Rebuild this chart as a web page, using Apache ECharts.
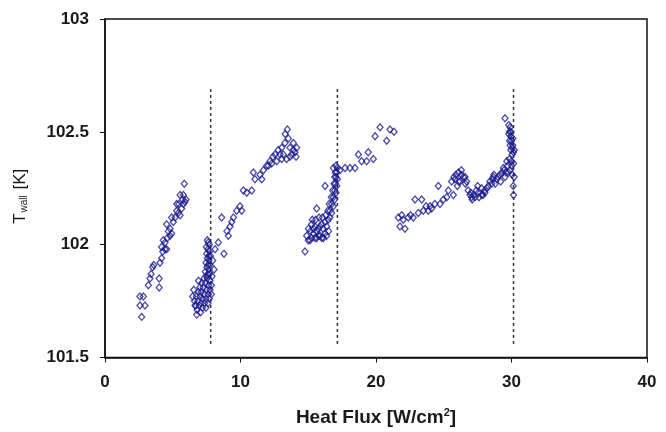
<!DOCTYPE html>
<html>
<head>
<meta charset="utf-8">
<script src="https://cdn.jsdelivr.net/npm/echarts@6/dist/echarts.min.js"></script>
<style>
html,body{margin:0;padding:0;background:#fff;}
#chart{width:666px;height:432px;}
</style>
</head>
<body>
<div id="chart"></div>
<script>
// Heat flux [W/cm2], wall temperature [K] pairs
const run1 = [
  [5.85,102.27],[5.78,102.22],[5.9,102.19],[5.29,102.18],[5.41,102.14],[4.92,102.12],[5.04,102.10],
  [4.55,102.09],[4.80,102.04],[4.30,102.02],[4.18,101.99],[4.43,101.98],[4.18,101.94],[4.06,101.92],
  [3.52,101.90],[3.32,101.85],[4.0,101.85],[3.2,101.82],[4.0,101.81],[2.83,101.77],[2.58,101.77],
  [2.58,101.73],[2.95,101.73],[2.71,101.68],[5.54,102.22],[5.73,102.20],[5.98,102.20],[5.44,102.18],
  [5.78,102.18],[5.66,102.16],[5.29,102.15],[5.54,102.13],[5.17,102.12],[4.8,102.07],[4.67,102.06],
  [4.92,102.05],[4.6,102.03],[4.43,102.01],[4.26,101.97],[4.55,101.98],[3.4,101.87],[3.6,101.91]
];
const run2 = [
  [7.55,102.02],[7.62,102.01],[7.7,102.0],[7.48,101.99],[7.6,101.98],[7.72,101.97],[7.5,101.96],
  [7.65,101.95],[7.78,101.95],[7.55,101.94],[7.68,101.93],[7.45,101.92],[7.6,101.91],[7.75,101.91],
  [7.52,101.90],[7.66,101.89],[7.4,101.88],[7.58,101.87],[7.72,101.87],[7.48,101.86],
  [8.12,101.98],[8.36,102.01],[8.78,101.96],[7.95,101.93],[8.05,101.89],
  [7.3,101.85],[7.55,101.85],[7.75,101.84],[7.15,101.83],[7.4,101.83],[7.65,101.82],[7.85,101.82],
  [7.0,101.81],[7.25,101.81],[7.5,101.8],[7.75,101.8],[6.9,101.79],[7.1,101.79],[7.35,101.78],
  [7.6,101.78],[7.85,101.78],[6.75,101.77],[7.0,101.77],[7.2,101.76],[7.45,101.76],[7.7,101.76],
  [6.6,101.75],[6.85,101.75],[7.1,101.74],[7.35,101.74],[7.6,101.74],[6.7,101.73],[6.95,101.73],
  [7.2,101.72],[7.45,101.72],[6.8,101.71],[7.05,101.7],[6.77,101.69],[6.64,101.73],[6.47,101.77],
  [7.9,101.86],[6.55,101.8],[6.9,101.84]
];
const run3 = [
  [8.61,102.12],[9.1,102.04],[9.23,102.08],[9.35,102.10],[9.48,102.12],[9.72,102.15],[9.96,102.17],
  [10.09,102.15],[10.21,102.24],[10.46,102.23],[10.83,102.24],[10.95,102.32],[11.07,102.29],
  [11.57,102.29],[11.69,102.33],[11.93,102.35],[12.18,102.37],[12.30,102.36],[12.55,102.40],
  [12.79,102.42],[13.04,102.43],[13.16,102.40],[13.28,102.45],[13.53,102.47],[13.46,102.51],
  [13.65,102.43],[13.9,102.45],[13.78,102.40],[14.02,102.41],[13.41,102.38],[13.04,102.38],
  [12.92,102.40],[14.15,102.43],[13.65,102.39],[12.67,102.37],[12.05,102.35],[11.44,102.31],
  [9.0,102.06],[13.3,102.49],[13.9,102.42],[14.1,102.39],[12.4,102.39]
];
const run4 = [
  [14.88,102.04],[15.0,102.02],[15.13,102.02],[15.25,102.03],[15.37,102.05],[15.5,102.03],
  [15.62,102.03],[15.75,102.04],[15.87,102.04],[16.0,102.03],[16.11,102.03],[16.24,102.05],
  [16.36,102.04],[15.01,102.07],[15.15,102.06],[15.25,102.09],[15.4,102.07],[15.5,102.08],
  [15.62,102.06],[15.74,102.07],[15.87,102.08],[15.99,102.09],[16.1,102.07],[16.24,102.1],
  [16.36,102.08],[16.48,102.11],[16.5,102.06],[15.3,102.11],[15.55,102.11],[15.8,102.12],
  [16.05,102.12],[16.3,102.13],[16.45,102.15],[16.6,102.15],[16.6,102.12],[16.73,102.14],
  [16.55,102.18],[16.73,102.18],[16.85,102.17],[16.7,102.21],[16.85,102.21],[16.95,102.2],
  [16.8,102.24],[16.95,102.24],[17.05,102.23],[16.9,102.27],[17.0,102.27],[17.1,102.26],
  [16.95,102.3],[17.05,102.3],[17.15,102.29],[17.0,102.32],[17.1,102.32],[16.85,102.34],
  [17.05,102.35],[17.15,102.34],[14.76,101.97],[15.62,102.16],[16.24,102.26],
  [17.34,102.33],[17.71,102.34],[18.08,102.34],[18.45,102.34]
];
const run5 = [
  [18.7,102.40],[18.94,102.37],[19.43,102.41],[19.31,102.37],[19.8,102.38],[19.93,102.48],
  [20.3,102.52],[20.79,102.46],[21.03,102.51],[21.33,102.50]
];
const run6 = [
  [21.65,102.12],[21.77,102.08],[22.14,102.07],[22.01,102.11],[22.38,102.12],[22.75,102.12],
  [22.88,102.20],[23.37,102.20],[23.12,102.14],[23.49,102.15],[23.86,102.15],[23.99,102.17],
  [24.35,102.18],[24.72,102.18],[24.6,102.26],[24.97,102.20],[25.22,102.21],[25.34,102.24],
  [25.58,102.28],[25.71,102.22],[25.83,102.29],[26.08,102.32],[26.32,102.31],[26.2,102.28],
  [26.57,102.30],[26.69,102.28],[26.94,102.22],[27.06,102.21],[27.31,102.21],[27.55,102.23],
  [27.8,102.22],[28.04,102.23],[28.29,102.26],[28.54,102.27],[28.66,102.30],[28.91,102.29],
  [29.15,102.31],[29.4,102.34],[29.52,102.30],[29.65,102.37],[29.77,102.32],[30.01,102.35],
  [30.13,102.26],[29.52,102.56],
  [29.8,102.53],[29.85,102.5],[29.9,102.52],[29.95,102.48],[29.85,102.46],[29.9,102.44],
  [30.0,102.46],[30.05,102.43],[29.95,102.42],[30.1,102.44],[30.15,102.41],[30.2,102.42],
  [30.05,102.4],[29.8,102.49],[29.95,102.5],[30.1,102.47],[29.85,102.38],[30.0,102.37],
  [30.15,102.36],[29.7,102.35],[29.9,102.33],[30.05,102.31],[30.2,102.3],[29.6,102.32],
  [29.45,102.33],[30.15,102.22],
  [26.8,102.24],[27.0,102.23],[27.2,102.22],[27.4,102.24],[27.6,102.21],[27.8,102.25],
  [28.0,102.24],[28.2,102.25],[27.1,102.2],[27.5,102.26],[27.9,102.22],[28.4,102.28],
  [28.6,102.29],[28.8,102.27],[29.0,102.3],[29.2,102.28],[29.3,102.32],[28.7,102.31],
  [25.9,102.31],[26.1,102.28],[26.3,102.33],[26.45,102.3],[26.6,102.27],[26.0,102.26],[25.75,102.3],
  [23.7,102.17],[24.1,102.16],[22.55,102.13],[21.9,102.13]
];
// regime boundaries (vertical dashed lines)
const dividerX = [7.8, 17.15, 30.15];
const dividerY = [101.56, 102.69];
const xTicks = [0, 40, 10];
const yTicks = [101.5, 103, 0.5];

const FONT = "'Liberation Sans', Arial, sans-serif";
const NAVY = '#1c1c8e';

const scatterStyle = {
  type: 'scatter',
  symbol: 'diamond',
  symbolSize: [6, 7],
  itemStyle: { color: 'rgba(255,255,255,0)', borderColor: NAVY, borderWidth: 1.3 },
  silent: true
};

const series = [run1, run2, run3, run4, run5, run6].map((d, i) =>
  Object.assign({ name: 'run' + (i + 1), data: d }, scatterStyle));

dividerX.forEach(x => {
  series.push({
    type: 'line',
    data: dividerY.map(y => [x, y]),
    symbol: 'none',
    silent: true,
    lineStyle: { color: '#333', width: 1.5, type: [3, 3] },
    z: 1
  });
});

const chart = echarts.init(document.getElementById('chart'), null, { renderer: 'canvas' });
chart.setOption({
  animation: false,
  backgroundColor: '#fff',
  grid: { left: 105, right: 19, top: 19, bottom: 74, show: true, borderColor: '#111', borderWidth: 1.5, backgroundColor: 'transparent' },
  xAxis: {
    type: 'value', min: xTicks[0], max: xTicks[1], interval: xTicks[2],
    axisLine: { show: true, lineStyle: { color: '#111', width: 1.5 } },
    axisTick: { show: true, inside: false, length: 5, lineStyle: { color: '#111' } },
    splitLine: { show: false },
    axisLabel: { margin: 16, color: '#1a1a1a', fontFamily: FONT, fontWeight: 'bold', fontSize: 17 },
    name: 'Heat Flux [W/cm{sup|2}]',
    nameLocation: 'middle', nameGap: 50,
    nameTextStyle: {
      color: '#1a1a1a', fontFamily: FONT, fontWeight: 'bold', fontSize: 19,
      rich: { sup: { fontSize: 11, fontFamily: FONT, fontWeight: 'bold', color: '#1a1a1a', verticalAlign: 'top', padding: [0, 0, 9, 0] } }
    }
  },
  yAxis: {
    type: 'value', min: yTicks[0], max: yTicks[1], interval: yTicks[2],
    axisLine: { show: true, lineStyle: { color: '#111', width: 1.5 } },
    axisTick: { show: true, inside: false, length: 5, lineStyle: { color: '#111' } },
    splitLine: { show: false },
    axisLabel: { margin: 16, color: '#1a1a1a', fontFamily: FONT, fontWeight: 'bold', fontSize: 17 },
    name: '{t|T}{s|wall}{t| [K]}',
    nameLocation: 'middle', nameGap: 76, nameRotate: 90,
    nameTextStyle: {
      padding: [0, 16, 0, 0],
      rich: {
        t: { fontSize: 17, fontFamily: FONT, color: '#1a1a1a', verticalAlign: 'bottom' },
        s: { fontSize: 10, fontFamily: FONT, color: '#1a1a1a', verticalAlign: 'bottom', padding: [0, 1, 0, 1] }
      }
    }
  },
  series: series
});
</script>
</body>
</html>
